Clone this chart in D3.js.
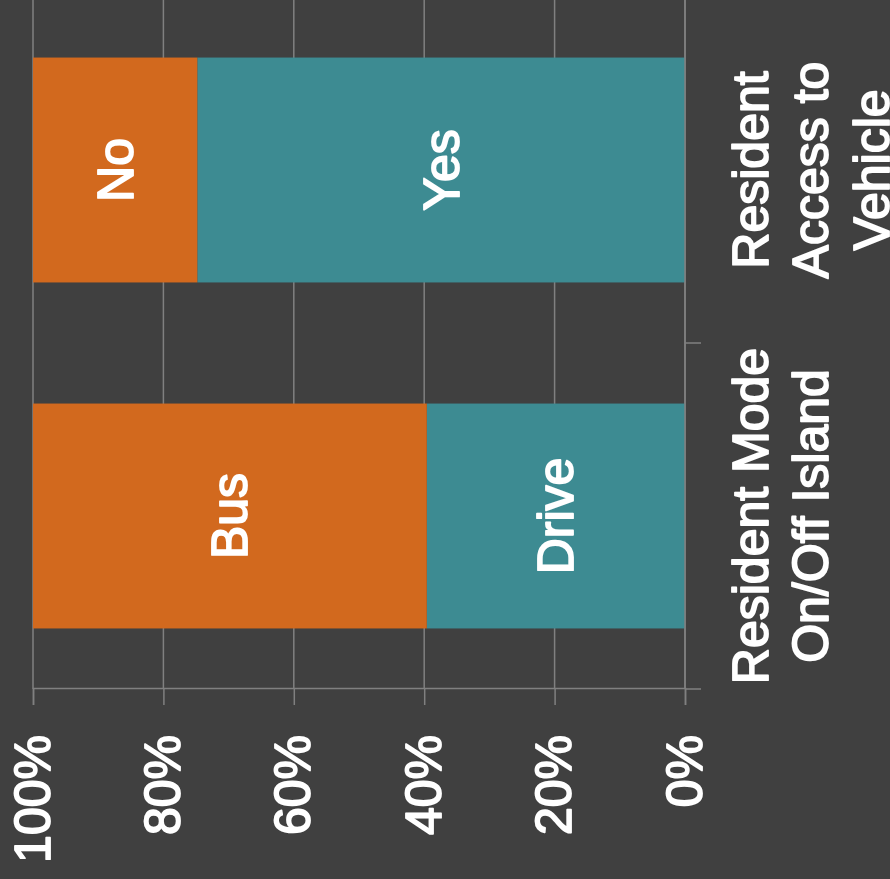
<!DOCTYPE html>
<html>
<head>
<meta charset="utf-8">
<script src="https://cdn.jsdelivr.net/npm/d3@7"></script>
<style>
  html, body { margin: 0; padding: 0; background: #404040; }
  svg { display: block; }
  .label { fill: #ffffff; stroke: #ffffff; stroke-width: 1.8px; stroke-linejoin: round; }
</style>
</head>
<body>
<svg id="chart" width="890" height="879"></svg>
<script>
// Survey categories and the two stacked shares per category
const categories = ["Resident Mode On/Off Island", "Resident Access to Vehicle"];
const lowerLabels = ["Drive", "Yes"];
const lowerShares = [0.396, 0.748];
const upperLabels = ["Bus", "No"];
const upperShares = [0.604, 0.252];
const tickValues = [0, 0.2, 0.4, 0.6, 0.8, 1];

const colors = { lower: "#3d8b92", upper: "#d2691e" };
const gridColor = "#808080";
const font = "'Liberation Sans', Arial, sans-serif";
const fontSize = "50px";

const rows = categories.map((c, i) => ({
  category: c,
  lower: lowerShares[i], upper: upperShares[i],
  lowerLabel: lowerLabels[i], upperLabel: upperLabels[i]
}));

const svg = d3.select("#chart");
const W = 879; // chart frame width before the quarter turn

// The whole column chart is drawn in its own frame and turned a quarter counter-clockwise
const g = svg.append("g").attr("transform", `translate(0,${W}) rotate(-90)`);

const x = d3.scaleBand().domain(categories).range([190, 882])
  .paddingInner(0.35).paddingOuter(0.175);
const y = d3.scaleLinear().domain([0, 1]).range([685, 33]);

// horizontal gridlines
g.append("g").selectAll("line").data(tickValues).join("line")
  .attr("x1", 190).attr("x2", 882)
  .attr("y1", d => y(d)).attr("y2", d => y(d))
  .attr("stroke", gridColor).attr("stroke-width", 1.5);

// stacked bars
const stack = d3.stack().keys(["lower", "upper"]);
const series = stack(rows);
const layers = g.append("g").selectAll("g").data(series).join("g")
  .attr("fill", s => colors[s.key]);
layers.selectAll("rect").data(s => s).join("rect")
  .attr("x", d => x(d.data.category))
  .attr("width", x.bandwidth())
  .attr("y", d => y(d[1]))
  .attr("height", d => y(d[0]) - y(d[1]));

// segment labels
series.forEach(s => {
  g.append("g").selectAll("text").data(s).join("text")
    .attr("class", "label")
    .attr("x", d => x(d.data.category) + x.bandwidth() / 2)
    .attr("y", d => (y(d[0]) + y(d[1])) / 2)
    .attr("dy", "0.35em")
    .attr("text-anchor", "middle")
    .style("font-family", font)
    .style("font-size", fontSize)
    .text(d => d.data[s.key + "Label"]);
});

// value axis
const yAxis = g.append("g").attr("transform", "translate(190,0)")
  .call(d3.axisLeft(y).tickValues(tickValues).tickFormat(d3.format(".0%"))
    .tickSize(16).tickPadding(30));
yAxis.selectAll("path, line").attr("stroke", gridColor).attr("stroke-width", 1.5);
yAxis.selectAll("text").attr("class", "label").attr("fill", null)
  .style("font-family", font).style("font-size", fontSize);

// category axis: baseline, boundary ticks and wrapped labels
const boundaries = categories.map(c => x(c) - x.step() * x.paddingInner() / 2)
  .concat([x(categories[categories.length - 1]) + x.bandwidth() + x.step() * x.paddingInner() / 2]);
g.append("line")
  .attr("x1", 190).attr("x2", 882).attr("y1", y(0)).attr("y2", y(0))
  .attr("stroke", gridColor).attr("stroke-width", 1.5);
g.append("g").selectAll("line").data(boundaries).join("line")
  .attr("x1", d => d).attr("x2", d => d)
  .attr("y1", y(0)).attr("y2", y(0) + 16)
  .attr("stroke", gridColor).attr("stroke-width", 1.5);

const xAxis = g.append("g").attr("transform", `translate(0,${y(0)})`)
  .call(d3.axisBottom(x).tickSize(0).tickPadding(47));
xAxis.select(".domain").remove();
xAxis.selectAll("text").attr("class", "label").attr("fill", null)
  .style("font-family", font).style("font-size", fontSize);

function wrap(textSel, width) {
  textSel.each(function () {
    const text = d3.select(this);
    const words = text.text().split(/\s+/);
    const yPos = text.attr("y");
    const dy0 = parseFloat(text.attr("dy"));
    text.text(null);
    let line = [];
    let lineNo = 0;
    let tspan = text.append("tspan").attr("x", 0).attr("y", yPos).attr("dy", dy0 + "em");
    words.forEach(w => {
      line.push(w);
      tspan.text(line.join(" "));
      if (tspan.node().getComputedTextLength() > width && line.length > 1) {
        line.pop();
        tspan.text(line.join(" "));
        line = [w];
        lineNo += 1;
        tspan = text.append("tspan").attr("x", 0).attr("y", yPos)
          .attr("dy", (dy0 + lineNo * 1.215) + "em").text(w);
      }
    });
  });
}
wrap(xAxis.selectAll("text"), x.step());
</script>
</body>
</html>
